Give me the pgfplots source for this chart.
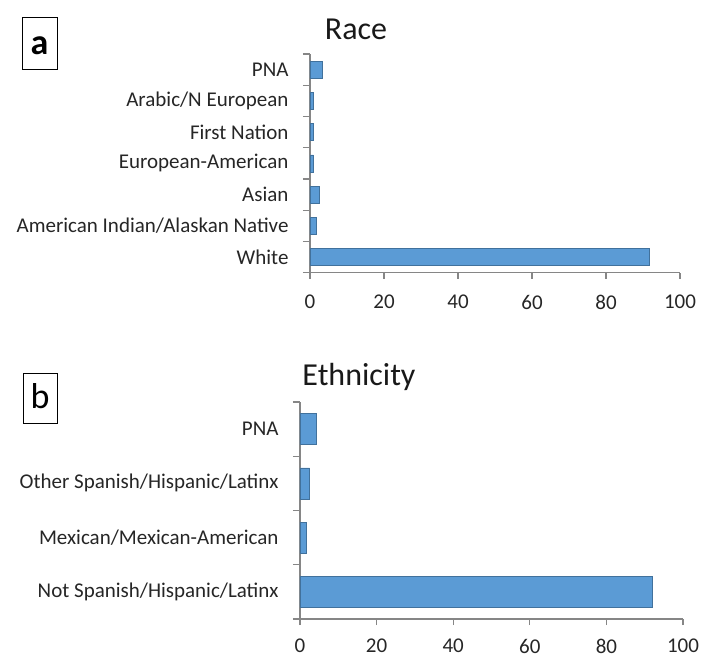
\documentclass[border=0pt]{standalone}
\usepackage{pgfplots}
\pgfplotsset{compat=1.18}
\usepackage{fontspec}
\setmainfont{Carlito}
\definecolor{barfill}{HTML}{5B9BD5}
\definecolor{baredge}{HTML}{41719C}
\definecolor{axgray}{HTML}{868686}
\begin{document}
\begin{tikzpicture}
\useasboundingbox (0pt,0pt) rectangle (713pt,-658pt);
\pgfplotsset{
  excelbar/.style={
    scale only axis,
    anchor=south west,
    xbar,
    xmin=0, xmax=100,
    axis x line*=bottom, axis y line*=left,
    tick align=outside,
    major tick length=6pt,
    minor tick length=7pt,
    xtick={0,20,40,60,80,100},
    major y tick style={draw=none},
    minor y tick style={axgray, line width=1.2pt},
    major x tick style={axgray, line width=1.2pt},
    axis line style={axgray, line width=1.2pt, -},
    tick style={axgray, line width=1.2pt},
    ticklabel style={font=\fontsize{21}{25}\selectfont, text=black!85},
    xticklabel style={yshift=-13pt},
    yticklabel style={xshift=-12pt},
    /pgf/number format/assume math mode=true,
  }
}
\begin{axis}[excelbar,
  at={(310pt,-272.7pt)},
  width=370pt, height=218.7pt,
  ymin=-0.5, ymax=6.5,
  bar width=17pt,
  ytick={0,1,2,3,4,5,6},
  minor ytick={-0.5,0.5,1.5,2.5,3.5,4.5,5.5,6.5},
  yticklabels={White,American Indian/Alaskan Native,Asian,European-American,First Nation,Arabic/N European,PNA},
]
\addplot[fill=barfill, draw=baredge] coordinates {
 (91.7,0) (1.6,1) (2.4,2) (0.9,3) (0.9,4) (0.9,5) (3.2,6)
};
\end{axis}
\begin{axis}[excelbar,
  at={(300pt,-619pt)},
  width=383pt, height=217pt,
  ymin=-0.5, ymax=3.5,
  bar width=31pt,
  ytick={0,1,2,3},
  minor ytick={-0.5,0.5,1.5,2.5,3.5},
  xticklabel style={yshift=2.5pt},
  yticklabels={Not Spanish/Hispanic/Latinx,Mexican/Mexican-American,Other Spanish/Hispanic/Latinx,PNA},
]
\addplot[fill=barfill, draw=baredge] coordinates {
 (92,0) (1.6,1) (2.5,2) (4.2,3)
};
\end{axis}
\node[anchor=base, font=\fontsize{32}{38}\selectfont, text=black!90] at (356pt,-40pt) {Race};
\node[anchor=base, font=\fontsize{32}{38}\selectfont, text=black!90] at (359pt,-385pt) {Ethnicity};
\draw[line width=1pt] (22pt,-18pt) rectangle (57pt,-70pt);
\draw[line width=1pt] (23pt,-373pt) rectangle (57pt,-423pt);
\node[anchor=base, font=\fontsize{36}{42}\selectfont\bfseries] at (39.5pt,-55pt) {a};
\node[anchor=base, font=\fontsize{36}{42}\selectfont] at (40pt,-408pt) {b};
\end{tikzpicture}
\end{document}
